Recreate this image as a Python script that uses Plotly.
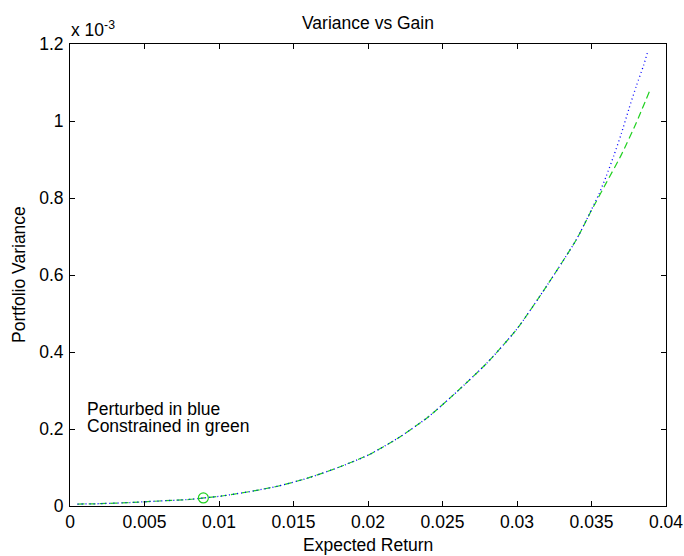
import plotly.graph_objects as go

# Expected return (x) and portfolio variance (y, in units of 1e-3)
ret_constrained = [0.0005, 0.002, 0.004, 0.006, 0.008, 0.009, 0.010, 0.012, 0.014, 0.016,
                   0.018, 0.020, 0.022, 0.024, 0.026, 0.028, 0.030, 0.032, 0.034, 0.035,
                   0.036, 0.037, 0.038, 0.0389]
var_constrained_e3 = [0.005, 0.006, 0.009, 0.013, 0.017, 0.021, 0.025, 0.037, 0.052, 0.073,
                      0.100, 0.132, 0.176, 0.230, 0.298, 0.372, 0.460, 0.572, 0.693, 0.768,
                      0.840, 0.912, 0.995, 1.078]

ret_perturbed = [0.0005, 0.002, 0.004, 0.006, 0.008, 0.009, 0.010, 0.012, 0.014, 0.016,
                 0.018, 0.020, 0.022, 0.024, 0.026, 0.028, 0.030, 0.032, 0.034, 0.035,
                 0.0355, 0.036, 0.0365, 0.037, 0.0375, 0.038, 0.0385, 0.0388]
var_perturbed_e3 = [0.005, 0.006, 0.009, 0.013, 0.017, 0.021, 0.025, 0.037, 0.052, 0.073,
                    0.100, 0.132, 0.176, 0.230, 0.298, 0.372, 0.460, 0.572, 0.693, 0.770,
                    0.810, 0.858, 0.910, 0.967, 1.030, 1.090, 1.145, 1.184]

marker_ret = [0.00895]
marker_var_e3 = [0.021]

x_ticks = [0, 0.005, 0.01, 0.015, 0.02, 0.025, 0.03, 0.035, 0.04]
x_tick_labels = ["0", "0.005", "0.01", "0.015", "0.02", "0.025", "0.03", "0.035", "0.04"]
y_ticks_e3 = [0, 0.2, 0.4, 0.6, 0.8, 1.0, 1.2]
y_tick_labels = ["0", "0.2", "0.4", "0.6", "0.8", "1", "1.2"]

S = 1e-3
FONT = "Liberation Sans, Arial, sans-serif"
FS = 17.5
GREEN = "#1fd01f"

fig = go.Figure()
fig.add_trace(go.Scatter(x=ret_constrained, y=[v * S for v in var_constrained_e3],
                         mode="lines",
                         line=dict(color=GREEN, width=1.2, dash="7px,4px",
                                   shape="spline", smoothing=0.6),
                         showlegend=False))
fig.add_trace(go.Scatter(x=ret_perturbed, y=[v * S for v in var_perturbed_e3],
                         mode="lines",
                         line=dict(color="#0000ff", width=1.3, dash="1px,3px",
                                   shape="spline", smoothing=0.6),
                         showlegend=False))
fig.add_trace(go.Scatter(x=marker_ret, y=[v * S for v in marker_var_e3], mode="markers",
                         marker=dict(symbol="circle-open", size=10, color=GREEN,
                                     line=dict(width=1.2, color=GREEN)),
                         showlegend=False))

axis_common = dict(showline=True, linecolor="black", linewidth=1, mirror="ticks",
                   ticks="inside", ticklen=5, tickwidth=1, tickcolor="black",
                   showgrid=False, zeroline=False, automargin=False,
                   tickfont=dict(family=FONT, size=FS, color="black"))

fig.update_layout(
    width=684, height=556,
    margin=dict(l=70, r=18, t=44, b=50, autoexpand=False),
    paper_bgcolor="white", plot_bgcolor="white",
    font=dict(family=FONT, size=FS, color="black"),
    xaxis=dict(range=[0, 0.04], tickvals=x_ticks, ticktext=x_tick_labels,
               **axis_common),
    yaxis=dict(range=[0, 1.2 * S], tickvals=[v * S for v in y_ticks_e3],
               ticktext=y_tick_labels, ticklabelstandoff=2,
               **axis_common),
)

fig.add_annotation(text="Variance vs Gain", xref="paper", yref="paper", x=0.5, y=1,
                   xanchor="center", yanchor="middle", yshift=21, showarrow=False,
                   borderpad=0, font=dict(family=FONT, size=FS, color="black"))
fig.add_annotation(text="Expected Return", xref="paper", yref="paper", x=0.5, y=0,
                   xanchor="center", yanchor="middle", yshift=-39, showarrow=False,
                   borderpad=0, font=dict(family=FONT, size=FS, color="black"))
fig.add_annotation(text="Portfolio Variance", xref="paper", yref="paper", x=0, y=0.5,
                   xanchor="center", yanchor="middle", xshift=-51, textangle=-90,
                   showarrow=False, borderpad=0,
                   font=dict(family=FONT, size=FS, color="black"))
fig.add_annotation(text="x 10<sup>-3</sup>", xref="paper", yref="paper", x=0, y=1,
                   xanchor="left", yanchor="bottom", xshift=0, yshift=3, showarrow=False,
                   borderpad=0, font=dict(family=FONT, size=FS, color="black"))
fig.add_annotation(text="Perturbed in blue", xref="x", yref="y", x=0.00105, y=0.252 * S,
                   xanchor="left", yanchor="middle", showarrow=False, borderpad=0,
                   font=dict(family=FONT, size=FS, color="black"))
fig.add_annotation(text="Constrained in green", xref="x", yref="y", x=0.00105, y=0.207 * S,
                   xanchor="left", yanchor="middle", showarrow=False, borderpad=0,
                   font=dict(family=FONT, size=FS, color="black"))

fig.write_html("out.html",
               config={"displayModeBar": False, "staticPlot": True},
               post_script="document.body.style.margin='0';"
                           "document.body.style.overflow='hidden';")
